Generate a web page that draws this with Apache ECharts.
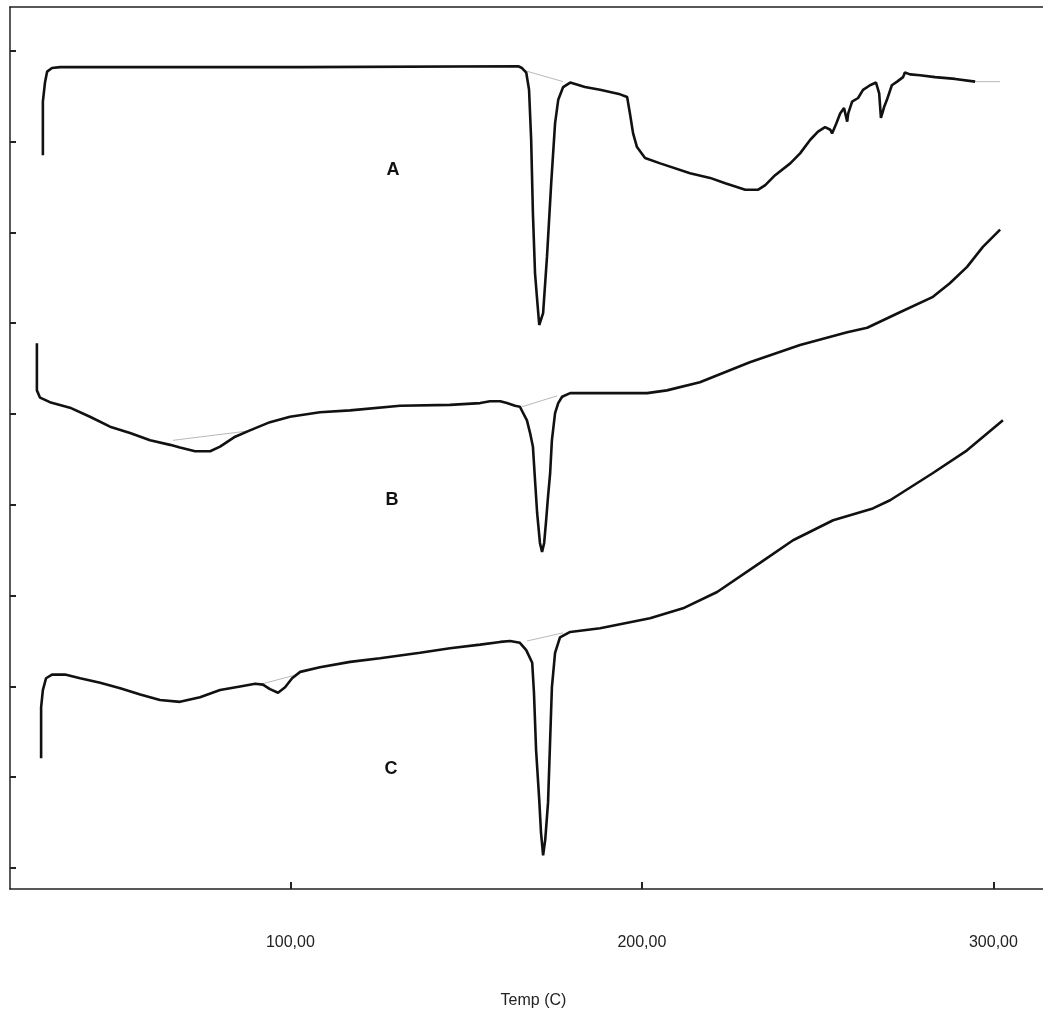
<!DOCTYPE html>
<html>
<head>
    <meta charset="utf-8">
    <title>DSC</title>
    <script src="https://cdn.jsdelivr.net/npm/echarts@6/dist/echarts.min.js"></script>
    <style>
        html, body { margin: 0; padding: 0; background: #fff; }
        #main { width: 1043px; height: 1016px; }
    </style>
</head>
<body>
<div id="main"></div>
<script type="text/javascript">
    // 曲线数据 [温度, 热流(任意单位)]
    var curveA = [
        [29.6, 7.85], [29.6, 8.44], [30.2, 8.65], [30.8, 8.77], [32.2, 8.81], [34.5, 8.82],
        [102.8, 8.82], [164.8, 8.83], [165.9, 8.81], [167.1, 8.76], [167.9, 8.57], [168.5, 8.02],
        [169.0, 7.21], [169.6, 6.55], [170.2, 6.26], [170.8, 5.98], [171.3, 5.96], [171.9, 6.11],
        [173.0, 6.73], [174.2, 7.54], [175.3, 8.20], [176.2, 8.46], [177.6, 8.60], [179.6, 8.65],
        [183.8, 8.60], [188.1, 8.57], [193.8, 8.52], [195.8, 8.49], [196.6, 8.31], [197.5, 8.09],
        [198.6, 7.94], [200.9, 7.82], [205.2, 7.76], [213.7, 7.65], [219.4, 7.60], [223.7, 7.54],
        [229.4, 7.47], [233.1, 7.47], [235.1, 7.52], [237.9, 7.63], [242.2, 7.76], [245.0, 7.87],
        [247.9, 8.02], [250.1, 8.11], [252.1, 8.16], [253.6, 8.13], [254.1, 8.09], [255.3, 8.20],
        [256.4, 8.31], [257.5, 8.37], [258.4, 8.22], [258.7, 8.31], [259.8, 8.44], [261.5, 8.48],
        [262.9, 8.57], [264.9, 8.62], [266.6, 8.65], [267.5, 8.53], [268.0, 8.26], [268.9, 8.38],
        [269.7, 8.46], [271.1, 8.62], [272.6, 8.66], [274.3, 8.71], [274.8, 8.76], [276.3, 8.74],
        [279.1, 8.73], [283.4, 8.71], [289.1, 8.69], [294.8, 8.66]
    ];
    var curveB = [
        [27.9, 5.78], [27.9, 5.26], [28.8, 5.18], [31.6, 5.13], [37.3, 5.07], [43.0, 4.97],
        [48.7, 4.86], [54.4, 4.79], [60.1, 4.71], [65.8, 4.66], [68.6, 4.63], [72.9, 4.59],
        [77.2, 4.59], [80.0, 4.64], [84.3, 4.75], [88.5, 4.82], [94.2, 4.91], [99.9, 4.97],
        [108.4, 5.02], [117.0, 5.04], [131.2, 5.09], [145.4, 5.10], [154.0, 5.12], [156.8, 5.14],
        [159.7, 5.14], [161.6, 5.12], [163.9, 5.09], [165.3, 5.08], [167.3, 4.93], [168.2, 4.79],
        [169.0, 4.64], [169.6, 4.27], [170.2, 3.91], [171.0, 3.58], [171.6, 3.48], [172.2, 3.58],
        [172.7, 3.80], [173.3, 4.09], [173.9, 4.35], [174.4, 4.71], [175.3, 5.01], [176.2, 5.12],
        [177.3, 5.19], [179.6, 5.23], [188.1, 5.23], [201.5, 5.23], [207.1, 5.26], [216.5, 5.35],
        [230.7, 5.57], [245.0, 5.76], [258.4, 5.90], [264.1, 5.95], [273.4, 6.12], [282.8, 6.29],
        [287.6, 6.44], [292.5, 6.62], [297.0, 6.84], [301.9, 7.03]
    ];
    var curveC = [
        [29.1, 1.21], [29.1, 1.77], [29.6, 1.96], [30.5, 2.09], [32.2, 2.13], [35.9, 2.13],
        [40.2, 2.09], [45.9, 2.04], [51.6, 1.98], [57.3, 1.91], [62.9, 1.85], [68.6, 1.83],
        [74.3, 1.88], [80.0, 1.96], [85.7, 2.00], [90.0, 2.03], [92.2, 2.02], [94.2, 1.97],
        [96.5, 1.93], [98.5, 1.99], [100.5, 2.09], [102.8, 2.16], [108.4, 2.21], [117.0, 2.27],
        [125.5, 2.31], [136.9, 2.37], [145.4, 2.42], [154.0, 2.46], [159.7, 2.49], [162.5, 2.50],
        [165.3, 2.48], [167.1, 2.40], [168.8, 2.26], [169.3, 1.93], [169.9, 1.30], [170.8, 0.75],
        [171.3, 0.39], [171.9, 0.14], [172.5, 0.31], [173.3, 0.72], [173.9, 1.41], [174.4, 1.99],
        [175.3, 2.37], [176.7, 2.54], [179.6, 2.60], [188.1, 2.64], [202.3, 2.75], [211.7, 2.86],
        [221.4, 3.04], [233.6, 3.36], [243.0, 3.61], [254.4, 3.83], [265.7, 3.96], [270.6, 4.05],
        [282.8, 4.35], [292.5, 4.60], [302.7, 4.93]
    ];
    // 积分基线(灰色)
    var baselines = [
        [[166.8, 8.78], [177.6, 8.66]],
        [[294.8, 8.66], [301.9, 8.66]],
        [[66.6, 4.71], [89.4, 4.82]],
        [[165.9, 5.08], [175.9, 5.20]],
        [[92.2, 2.03], [101.9, 2.13]],
        [[167.3, 2.50], [177.6, 2.59]]
    ];
    var curveNames = ['A', 'B', 'C'];
    var namePos = [[129.2, 7.69], [128.9, 4.05], [128.6, 1.09]];
    var xTicks = [100, 200, 300];
    var yTicks = [0, 1, 2, 3, 4, 5, 6, 7, 8, 9];

    var myChart = echarts.init(document.getElementById('main'));

    var series = [];
    baselines.forEach(function (b) {
        series.push({
            type: 'line', data: b, symbol: 'none', silent: true,
            lineStyle: { color: '#b8b8b8', width: 1 }
        });
    });
    [curveA, curveB, curveC].forEach(function (c, i) {
        series.push({
            name: curveNames[i], type: 'line', data: c, symbol: 'none',
            lineStyle: { color: '#111', width: 2.6 }
        });
    });
    series.push({
        type: 'scatter', symbolSize: 0, itemStyle: { opacity: 1 },
        data: namePos.map(function (p, i) { return { value: p, name: curveNames[i] }; }),
        label: {
            show: true, position: 'inside', formatter: '{b}',
            color: '#111', fontSize: 18, fontWeight: 'bold', fontFamily: 'Liberation Sans'
        }
    });

    myChart.setOption({
        animation: false,
        grid: { left: 10, right: 0, top: 7, bottom: 127 },
        xAxis: [{
            type: 'value', min: 20.25, max: 314.1,
            name: 'Temp (C)', nameLocation: 'middle', nameGap: 104,
            nameTextStyle: { color: '#222', fontSize: 16, fontFamily: 'Liberation Sans', padding: [0, 0, 0, 14] },
            axisLine: { show: true, onZero: false, lineStyle: { color: '#222', width: 1.5 } },
            axisTick: { show: true, inside: true, length: 7, customValues: xTicks, lineStyle: { color: '#222', width: 2 } },
            axisLabel: {
                customValues: xTicks, margin: 46, color: '#222', fontSize: 16, fontFamily: 'Liberation Sans',
                formatter: function (v) { return v.toFixed(2).replace('.', ','); }
            },
            splitLine: { show: false }
        }, {
            type: 'value', position: 'top', min: 20.25, max: 314.1,
            axisLine: { show: true, onZero: false, lineStyle: { color: '#222', width: 1.5 } },
            axisTick: { show: false }, axisLabel: { show: false }, splitLine: { show: false }
        }],
        yAxis: {
            type: 'value', min: -0.231, max: 9.482,
            axisLine: { show: true, onZero: false, lineStyle: { color: '#222', width: 1.5 } },
            axisTick: { show: true, inside: true, length: 6, customValues: yTicks, lineStyle: { color: '#222', width: 2 } },
            axisLabel: { show: false },
            splitLine: { show: false }
        },
        series: series
    });
</script>
</body>
</html>
